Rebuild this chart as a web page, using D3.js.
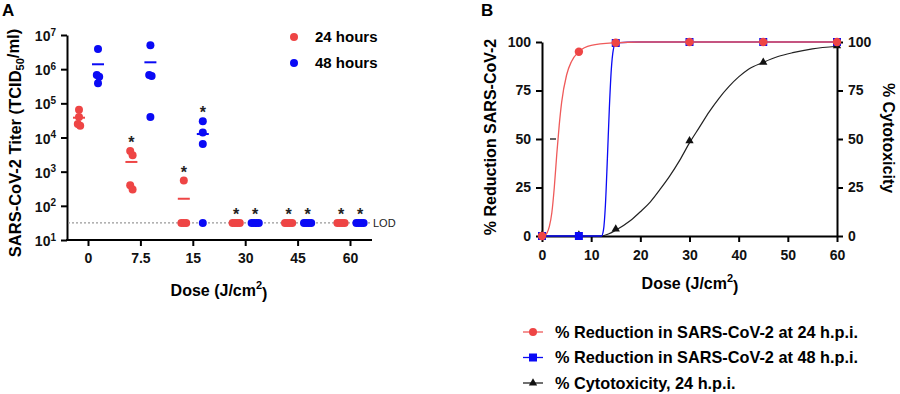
<!DOCTYPE html>
<html>
<head>
<meta charset="utf-8">
<script src="https://cdn.jsdelivr.net/npm/d3@7"></script>
<style>
  body { margin: 0; background: #fff; }
  svg { display: block; font-family: 'Liberation Sans', Arial, sans-serif; }
  .axis path, .axis line { stroke: #000; stroke-width: 2; }
  .axis text { font-size: 14px; font-weight: bold; fill: #111; }
</style>
</head>
<body>
<div id="container"></div>
<script>
const w = 900,
  h = 394;

// ---- panel A: titers per dose group ----
const doseLabels = ['0', '7.5', '15', '30', '45', '60'];
const lod = 31.6;
const titer24h = [
  [65000, 40000, 25000, 22000],
  [4000, 3000, 400, 300],
  [550, 31.6, 31.6, 31.6],
  [31.6, 31.6, 31.6, 31.6],
  [31.6, 31.6, 31.6, 31.6],
  [31.6, 31.6, 31.6, 31.6],
];
const titer48h = [
  [3900000, 670000, 600000, 390000],
  [5000000, 680000, 630000, 40000],
  [30000, 14000, 6500, 31.6],
  [31.6, 31.6, 31.6, 31.6],
  [31.6, 31.6, 31.6, 31.6],
  [31.6, 31.6, 31.6, 31.6],
];
const signif24h = [false, true, true, true, true, true];
const signif48h = [false, false, true, true, true, true];
const titerTicks = [1e1, 1e2, 1e3, 1e4, 1e5, 1e6, 1e7];

// ---- panel B: % reduction and cytotoxicity ----
const doseB = [0, 7.5, 15, 30, 45, 60];
const reduction24h = [0, 95, 99.6, 100, 100, 100];
const reduction48h = [0, 0, 99.5, 100, 100, 100];
const cytotox24h = [0, 0, 3, 48.5, 89, 97.5];
// fitted curves as [dose, %]
const fit24h = [
  [0, 0], [0.6, 0.3], [1, 1.5], [1.5, 5], [2, 12], [2.5, 25], [3, 42], [3.5, 57],
  [4, 69], [5, 83], [6, 90], [7.5, 95], [10, 98.3], [15, 99.6], [20, 100], [60, 100],
];
const fit48h = [
  [0, 0], [12.1, 0], [12.5, 3], [12.9, 16], [13.3, 40], [13.7, 66], [14.1, 86],
  [14.5, 96], [15, 99.5], [20, 100], [60, 100],
];
const fitCytotox = [
  [0, 0], [12, 0], [13.5, 1], [15, 3], [18, 8], [20, 12.5], [22, 17.5], [24, 24],
  [26, 31], [28, 39], [30, 48], [32, 56], [34, 64], [36, 71], [38, 77], [40, 82],
  [42, 86], [45, 89.5], [48, 92.5], [51, 94.5], [55, 96.5], [60, 97.8],
];

const red = '#ee4545',
  blue = '#0a0af5';

const svg = d3
  .select('#container')
  .append('svg')
  .attr('width', w)
  .attr('height', h);

// ================= Panel A =================
const xA = d3.scalePoint().domain(doseLabels).range([88, 350]);
const yA = d3.scaleLog().domain([10, 1e7]).range([240, 35]);

svg.append('text').text('A').attr('x', 2).attr('y', 16)
  .attr('font-size', 17).attr('font-weight', 'bold');

const yAxisA = d3
  .axisLeft(yA)
  .tickValues(titerTicks)
  .tickSize(6)
  .tickSizeOuter(0)
  .tickPadding(5)
  .tickFormat('');

const gyA = svg
  .append('g')
  .attr('class', 'axis')
  .attr('transform', 'translate(67,0)')
  .call(yAxisA);

gyA.selectAll('.tick text').each(function (d) {
  const t = d3.select(this).text('10').attr('dy', '0.4em').attr('font-size', 15);
  t.append('tspan')
    .attr('dy', '-0.55em')
    .attr('font-size', 10)
    .text(Math.round(Math.log10(d)));
});

// LOD line
svg
  .append('line')
  .attr('x1', 68)
  .attr('x2', 370)
  .attr('y1', yA(lod))
  .attr('y2', yA(lod))
  .attr('stroke', '#999')
  .attr('stroke-width', 1.2)
  .attr('stroke-dasharray', '2,2');
svg.append('text').text('LOD').attr('x', 373).attr('y', yA(lod))
  .attr('dy', '0.35em').attr('font-size', 11).attr('fill', '#222');

const xAxisA = d3.axisBottom(xA).tickSize(6).tickSizeOuter(0).tickPadding(7);
const gxA = svg
  .append('g')
  .attr('class', 'axis')
  .attr('transform', 'translate(0,240)')
  .call(xAxisA);
gxA.select('.domain').remove();
gxA.selectAll('.tick text').attr('font-size', 15);
svg
  .append('line')
  .attr('x1', 66)
  .attr('x2', 372)
  .attr('y1', 240)
  .attr('y2', 240)
  .attr('stroke', '#000')
  .attr('stroke-width', 2);

// spread points with overlapping heights sideways, like a scatter dot plot
function dodge(values) {
  const pts = values.map((v) => ({ v: v, py: yA(v), dx: 0 }));
  const sorted = pts.slice().sort((a, b) => a.py - b.py);
  const clusters = [];
  let cur = [sorted[0]];
  for (let i = 1; i < sorted.length; i++) {
    if (sorted[i].py - cur[cur.length - 1].py < 5) cur.push(sorted[i]);
    else {
      clusters.push(cur);
      cur = [sorted[i]];
    }
  }
  clusters.push(cur);
  clusters.forEach((c) => c.forEach((p, i) => (p.dx = (i - (c.length - 1) / 2) * 2.4)));
  return pts;
}

function drawGroupSeries(data, signif, offset, color) {
  data.forEach((vals, gi) => {
    const cx = xA(doseLabels[gi]) + offset;
    const g = svg.append('g');
    g.selectAll('circle')
      .data(dodge(vals))
      .enter()
      .append('circle')
      .attr('cx', (d) => cx + d.dx)
      .attr('cy', (d) => d.py)
      .attr('r', 4)
      .attr('fill', color);
    const m = d3.mean(vals);
    g.append('line')
      .attr('x1', cx - 6)
      .attr('x2', cx + 6)
      .attr('y1', yA(m))
      .attr('y2', yA(m))
      .attr('stroke', color)
      .attr('stroke-width', 2);
    if (signif[gi]) {
      g.append('text')
        .text('*')
        .attr('x', cx)
        .attr('y', yA(d3.max(vals)) - 3)
        .attr('text-anchor', 'middle')
        .attr('font-size', 16)
        .attr('font-weight', 'bold')
        .attr('fill', '#222');
    }
  });
}

drawGroupSeries(titer24h, signif24h, -9, red);
drawGroupSeries(titer48h, signif48h, 10, blue);

// axis titles A
const ytA = svg
  .append('text')
  .attr('transform', 'translate(15,143) rotate(-90)')
  .attr('text-anchor', 'middle')
  .attr('dy', '0.35em')
  .attr('font-size', 16.5)
  .attr('font-weight', 'bold');
ytA.append('tspan').text('SARS-CoV-2 Titer (TCID');
ytA.append('tspan').text('50').attr('font-size', 11).attr('dy', '0.3em');
ytA.append('tspan').text('/ml)').attr('dy', '-0.3em');

const xtA = svg
  .append('text')
  .attr('x', 219)
  .attr('y', 296)
  .attr('text-anchor', 'middle')
  .attr('font-size', 16)
  .attr('font-weight', 'bold');
xtA.append('tspan').text('Dose (J/cm');
xtA.append('tspan').text('2').attr('font-size', 11).attr('dy', '-0.6em');
xtA.append('tspan').text(')').attr('dy', '0.6em');

// legend A
const legA = [
  ['24 hours', red],
  ['48 hours', blue],
];
legA.forEach((d, i) => {
  svg.append('circle').attr('cx', 294).attr('cy', 37 + i * 26).attr('r', 4).attr('fill', d[1]);
  svg.append('text').text(d[0]).attr('x', 315).attr('y', 37 + i * 26)
    .attr('dy', '0.36em').attr('font-size', 15).attr('font-weight', 'bold');
});

// ================= Panel B =================
const xB = d3.scaleLinear().domain([0, 60]).range([542, 837]);
const yB = d3.scaleLinear().domain([0, 100]).range([236, 42]);

svg.append('text').text('B').attr('x', 481).attr('y', 16)
  .attr('font-size', 17).attr('font-weight', 'bold');

svg
  .append('g')
  .attr('class', 'axis')
  .attr('transform', 'translate(0,236)')
  .call(d3.axisBottom(xB).ticks(6).tickSize(6).tickSizeOuter(0).tickPadding(8));
svg
  .append('g')
  .attr('class', 'axis')
  .attr('transform', 'translate(542,0)')
  .call(d3.axisLeft(yB).tickValues([0, 25, 50, 75, 100]).tickSize(6).tickSizeOuter(0).tickPadding(5));
svg
  .append('g')
  .attr('class', 'axis')
  .attr('transform', 'translate(837,0)')
  .call(d3.axisRight(yB).tickValues([0, 25, 50, 75, 100]).tickSize(6).tickSizeOuter(0).tickPadding(5));

// 50% marker
svg.append('line').attr('x1', 550).attr('x2', 556)
  .attr('y1', yB(50)).attr('y2', yB(50)).attr('stroke', '#333').attr('stroke-width', 1.5);

const lineB = d3
  .line()
  .x((d) => xB(d[0]))
  .y((d) => yB(d[1]))
  .curve(d3.curveMonotoneX);

const tri = d3.symbol().type(d3.symbolTriangle).size(30);
const sq = d3.symbol().type(d3.symbolSquare).size(64);

// cytotoxicity
svg.append('path').attr('d', lineB(fitCytotox)).attr('fill', 'none')
  .attr('stroke', '#222').attr('stroke-width', 1.2);
svg.selectAll('.tri').data(doseB).enter().append('path')
  .attr('class', 'tri')
  .attr('d', tri)
  .attr('transform', (d, i) => 'translate(' + xB(d) + ',' + (yB(cytotox24h[i]) - 1) + ')')
  .attr('fill', '#111');

// 48 h
svg.append('path').attr('d', lineB(fit48h)).attr('fill', 'none')
  .attr('stroke', blue).attr('stroke-width', 1.3);
svg.selectAll('.sq').data(doseB).enter().append('path')
  .attr('class', 'sq')
  .attr('d', sq)
  .attr('transform', (d, i) => 'translate(' + xB(d) + ',' + yB(reduction48h[i]) + ')')
  .attr('fill', blue);

// 24 h
svg.append('path').attr('d', lineB(fit24h)).attr('fill', 'none')
  .attr('stroke', '#ef5a5a').attr('stroke-width', 1.3);
svg.selectAll('.dot24').data(doseB).enter().append('circle')
  .attr('class', 'dot24')
  .attr('cx', (d) => xB(d))
  .attr('cy', (d, i) => yB(reduction24h[i]))
  .attr('r', 4.2)
  .attr('fill', red);

// axis titles B
const xtB = svg
  .append('text')
  .attr('x', 690)
  .attr('y', 289)
  .attr('text-anchor', 'middle')
  .attr('font-size', 16)
  .attr('font-weight', 'bold');
xtB.append('tspan').text('Dose (J/cm');
xtB.append('tspan').text('2').attr('font-size', 11).attr('dy', '-0.6em');
xtB.append('tspan').text(')').attr('dy', '0.6em');

svg.append('text').text('% Reduction SARS-CoV-2')
  .attr('transform', 'translate(490,137) rotate(-90)')
  .attr('text-anchor', 'middle').attr('dy', '0.35em')
  .attr('font-size', 16).attr('font-weight', 'bold');
svg.append('text').text('% Cytotoxicity')
  .attr('transform', 'translate(889,138) rotate(90)')
  .attr('text-anchor', 'middle').attr('dy', '0.35em')
  .attr('font-size', 16).attr('font-weight', 'bold');

// legend B
const legB = [
  ['% Reduction in SARS-CoV-2 at 24 h.p.i.', '#ef5a5a', 'circle'],
  ['% Reduction in SARS-CoV-2 at 48 h.p.i.', blue, 'square'],
  ['% Cytotoxicity, 24 h.p.i.', '#222', 'triangle'],
];
legB.forEach((d, i) => {
  const y = 332 + i * 25.5;
  svg.append('line').attr('x1', 523).attr('x2', 543).attr('y1', y).attr('y2', y)
    .attr('stroke', d[1]).attr('stroke-width', 1.3);
  if (d[2] === 'circle') {
    svg.append('circle').attr('cx', 533).attr('cy', y).attr('r', 4).attr('fill', red);
  } else {
    svg.append('path')
      .attr('d', d[2] === 'square' ? sq : tri)
      .attr('transform', 'translate(533,' + y + ')')
      .attr('fill', d[2] === 'square' ? blue : '#111');
  }
  svg.append('text').text(d[0]).attr('x', 555).attr('y', y)
    .attr('dy', '0.36em').attr('font-size', 16.3).attr('font-weight', 'bold');
});
</script>
</body>
</html>
